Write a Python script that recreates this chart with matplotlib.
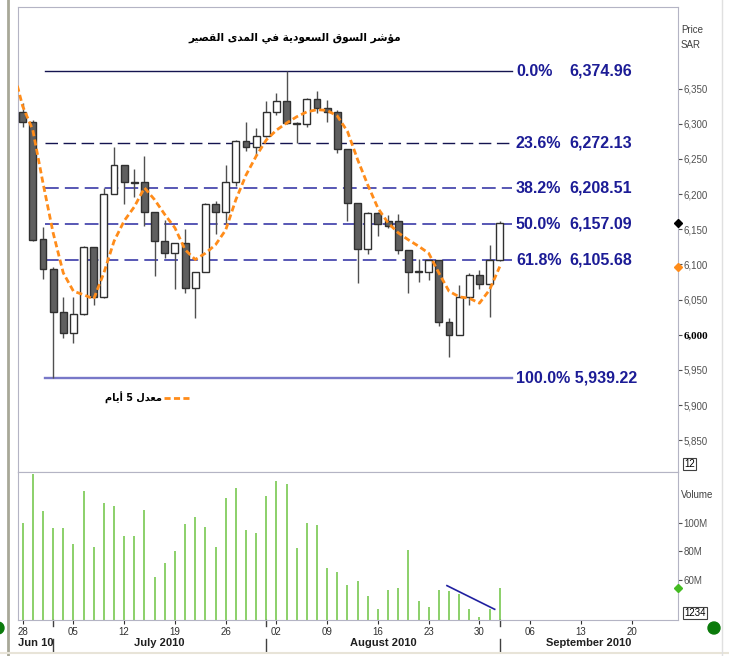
import numpy as np
import matplotlib
matplotlib.use('Agg')
import matplotlib.pyplot as plt
import matplotlib.transforms as mtransforms
from matplotlib.lines import Line2D
from matplotlib.patches import Ellipse

# Datos diarios (velas)
opens = [6317, 6302, 6136, 6093, 6033, 6002, 6029, 6125, 6054, 6200, 6241, 6217, 6217, 6174, 6133, 6117,
         6130, 6067, 6090, 6186, 6174, 6217, 6275, 6267, 6283, 6317, 6333, 6301, 6299, 6335, 6323, 6317,
         6264, 6187, 6122, 6173, 6162, 6162, 6121, 6090, 6089, 6106, 6018, 6000, 6054, 6085, 6072, 6106]
closes = [6302, 6135, 6093, 6033, 6002, 6029, 6125, 6054, 6200, 6241, 6217, 6216, 6174, 6133, 6117, 6130,
          6067, 6090, 6186, 6174, 6217, 6275, 6267, 6283, 6317, 6333, 6301, 6299, 6335, 6323, 6317, 6264,
          6187, 6122, 6173, 6157, 6155, 6121, 6089, 6089, 6106, 6018, 6000, 6054, 6085, 6072, 6106, 6159]
highs = [6330, 6305, 6153, 6096, 6054, 6054, 6126, 6125, 6208, 6267, 6241, 6236, 6254, 6174, 6163, 6131,
         6151, 6090, 6187, 6190, 6241, 6277, 6303, 6294, 6333, 6344, 6375, 6302, 6337, 6346, 6334, 6320,
         6264, 6188, 6175, 6174, 6171, 6172, 6121, 6108, 6106, 6106, 6024, 6071, 6088, 6092, 6127, 6162]
lows = [6295, 6133, 6080, 5939.2, 5996, 5988, 6028, 6043, 6052, 6200, 6186, 6196, 6155, 6084, 6109, 6065,
        6059, 6024, 6089, 6144, 6157, 6211, 6262, 6256, 6281, 6313, 6300, 6272, 6295, 6315, 6302, 6259,
        6162, 6074, 6115, 6140, 6152, 6115, 6059, 6075, 6078, 6012, 5968, 6000, 6043, 6065, 6026, 6105]

# Media movil de 5 dias (el primer valor es el dia anterior al grafico)
ma5 = [6380, 6325, 6291, 6216, 6145, 6088, 6062, 6057, 6051, 6088, 6133, 6162, 6182, 6209, 6192, 6171,
       6152, 6121, 6107, 6116, 6128, 6149, 6192, 6227, 6254, 6277, 6291, 6301, 6310, 6317, 6320, 6319,
       6311, 6289, 6249, 6213, 6180, 6159, 6145, 6135, 6126, 6116, 6088, 6062, 6054, 6052, 6045, 6064, 6097]

# Volumen (millones)
volume = [99.5, 134, 108, 96, 96, 85, 122, 83, 114, 112, 90.5, 90.5, 109, 62, 72, 80,
          99, 104, 97, 83, 117, 124.5, 95, 93, 119, 129, 127, 82.5, 100, 98, 68, 65.6,
          56, 59.4, 48.6, 39.7, 53, 54, 80.6, 45.3, 41.1, 53, 51.7, 49.8, 39.2, 33.8, 39.2, 54]
trend_x = [41.8, 46.5]
trend_v = [55.8, 39.2]

# Niveles de Fibonacci
fib_pct = ['0.0%', '23.6%', '38.2%', '50.0%', '61.8%', '100.0%']
fib_val = [6374.96, 6272.13, 6208.51, 6157.09, 6105.68, 5939.22]
fib_start, fib_end = 2.2, 48.2

# Eje de fechas
week_ticks = list(range(0, 61, 5))
week_labels = ['28', '05', '12', '19', '26', '02', '09', '16', '23', '30', '06', '13', '20']
month_starts = [3, 24, 47]
month_names = ['Jun 10', 'July 2010', 'August 2010', 'September 2010']

price_ticks = list(range(5850, 6351, 50))
vol_ticks = [60, 80, 100]

title_ar = 'مؤشر السوق السعودية في المدى القصير'
legend_ar = 'معدل 5 أيام'

# Formas contextuales arabes (aislada, final, inicial, media)
FORMS = {
    'ا': ('\uFE8D', '\uFE8E'), 'أ': ('\uFE83', '\uFE84'), 'ؤ': ('\uFE85', '\uFE86'),
    'د': ('\uFEA9', '\uFEAA'), 'ر': ('\uFEAD', '\uFEAE'), 'و': ('\uFEED', '\uFEEE'),
    'ة': ('\uFE93', '\uFE94'), 'ى': ('\uFEEF', '\uFEF0'),
    'م': ('\uFEE1', '\uFEE2', '\uFEE3', '\uFEE4'), 'ش': ('\uFEB5', '\uFEB6', '\uFEB7', '\uFEB8'),
    'ل': ('\uFEDD', '\uFEDE', '\uFEDF', '\uFEE0'), 'س': ('\uFEB1', '\uFEB2', '\uFEB3', '\uFEB4'),
    'ق': ('\uFED5', '\uFED6', '\uFED7', '\uFED8'), 'ع': ('\uFEC9', '\uFECA', '\uFECB', '\uFECC'),
    'ي': ('\uFEF1', '\uFEF2', '\uFEF3', '\uFEF4'), 'ف': ('\uFED1', '\uFED2', '\uFED3', '\uFED4'),
    'ص': ('\uFEB9', '\uFEBA', '\uFEBB', '\uFEBC'),
}


def shape(text):
    out = []
    for i, ch in enumerate(text):
        f = FORMS.get(ch)
        if f is None:
            out.append(ch)
            continue
        prev = text[i - 1] if i > 0 else ''
        nxt = text[i + 1] if i + 1 < len(text) else ''
        join_prev = prev in FORMS and len(FORMS[prev]) == 4
        join_next = len(f) == 4 and nxt in FORMS
        if join_prev and join_next:
            out.append(f[3])
        elif join_prev:
            out.append(f[1])
        elif join_next:
            out.append(f[2])
        else:
            out.append(f[0])
    return ''.join(reversed(out))


NARROW = ['Liberation Sans', 'DejaVu Sans']
W, H = 729, 656
fig = plt.figure(figsize=(W / 100, H / 100), dpi=100)
fig.patch.set_facecolor('white')

ax = fig.add_axes([18 / W, 184 / H, 660 / W, 465 / H])
axv = fig.add_axes([18 / W, 36 / H, 660 / W, 148 / H], sharex=ax)

x = np.arange(len(opens))
o = np.array(opens)
c = np.array(closes)

# Velas
ax.vlines(x, lows, highs, color='#505050', lw=1, zorder=2)
up = c >= o
body_bottom = np.minimum(o, c)
body_h = np.maximum(np.abs(c - o), 1.2)
ax.bar(x[up], body_h[up], bottom=body_bottom[up], width=0.68, color='white',
       edgecolor='#303030', lw=1, zorder=3)
ax.bar(x[~up], body_h[~up], bottom=body_bottom[~up], width=0.68, color='#5f5f5f',
       edgecolor='#303030', lw=1, zorder=3)

# Media movil
ma_x = np.arange(-1, len(ma5) - 1)
ax.plot(ma_x, ma5, color='#ff8c1a', lw=2, dashes=(2.2, 1.2), zorder=4)

# Lineas de Fibonacci
lab_kw = dict(color='#1c1c96', fontsize=11.5, fontweight='bold', family=NARROW, va='center', ha='left')
for i, (p, v) in enumerate(zip(fib_pct, fib_val)):
    if i == 0:
        ax.plot([fib_start, fib_end], [v, v], color='#141450', lw=1, zorder=1)
    elif i == len(fib_val) - 1:
        ax.plot([fib_start, fib_end], [v, v], color='#7878c8', lw=1.7, zorder=1)
    elif i == 1:
        ax.plot([fib_start, fib_end], [v, v], color='#141450', lw=1, dashes=(9, 4), zorder=1)
    else:
        ax.plot([fib_start, fib_end], [v, v], color='#2a2aa0', lw=1.1, dashes=(9, 4), zorder=1)
    if i == len(fib_val) - 1:
        ax.text(48.6, v, f'{p} {v:,.2f}', **lab_kw)
    else:
        ax.text(48.6, v, p, **lab_kw)
        ax.text(53.9, v, f'{v:,.2f}', **lab_kw)

ax.set_xlim(-0.46, 64.56)
ax.set_ylim(5805, 6466)

# Marcadores en el eje derecho
xr = ax.get_xlim()[1]
ax.plot([xr], [closes[-1]], 'D', color='black', ms=4, clip_on=False, zorder=6)
ax.plot([xr], [ma5[-1]], 'D', color='#ff8c1a', ms=4, clip_on=False, zorder=6)

ax.yaxis.tick_right()
ax.set_yticks(price_ticks)
ax.set_yticklabels([f'{t:,}' for t in price_ticks])
ax.tick_params(axis='y', direction='out', length=3, pad=1, labelsize=7, colors='#505050')
for lab in ax.get_yticklabels():
    lab.set_family(NARROW)
    if lab.get_text() == '6,000':
        lab.set_color('black')
        lab.set_fontweight('bold')
        lab.set_family(['Liberation Serif', 'DejaVu Serif'])
        lab.set_fontsize(8)
ax.tick_params(axis='x', bottom=False, labelbottom=False)
for s in ax.spines.values():
    s.set_color('#b4b4c4')

ax.text(0.42, 0.935, shape(title_ar), transform=ax.transAxes, ha='center', va='center',
        fontsize=7.6, fontweight='bold', family=['DejaVu Sans'])

handle = Line2D([], [], color='#ff8c1a', lw=2, dashes=(2.2, 1.2))
ax.legend([handle], [shape(legend_ar)], markerfirst=False, frameon=False, loc='center left',
          bbox_to_anchor=(0.125, 0.159), borderpad=0, handlelength=2.6, handletextpad=0.2,
          prop={'family': 'DejaVu Sans', 'weight': 'bold', 'size': 7})

# Volumen
axv.vlines(x, 0, volume, color='#78c850', lw=1.2)
axv.plot(trend_x, trend_v, color='#2020a0', lw=1.2)
axv.set_ylim(31.7, 135.5)
axv.plot([xr], [volume[-1]], 'D', color='#44bb22', ms=4, clip_on=False, zorder=6)
axv.yaxis.tick_right()
axv.set_yticks(vol_ticks)
axv.set_yticklabels([f'{t}M' for t in vol_ticks])
axv.tick_params(axis='y', direction='out', length=3, pad=1, labelsize=7, colors='#505050')
axv.set_xticks(week_ticks)
axv.set_xticklabels(week_labels)
axv.tick_params(axis='x', direction='out', length=3, pad=2, labelsize=7, colors='#303030')
for lab in axv.get_yticklabels() + axv.get_xticklabels():
    lab.set_family(NARROW)
for s in axv.spines.values():
    s.set_color('#b4b4c4')

# Meses y separadores
trans = mtransforms.blended_transform_factory(axv.transData, axv.transAxes)
bounds = [ax.get_xlim()[0]] + month_starts + [ax.get_xlim()[1]]
for m in month_starts:
    axv.plot([m, m], [-0.13, -0.215], color='#404040', lw=1, transform=trans, clip_on=False)
    axv.plot([m, m], [0, -0.04], color='#404040', lw=1, transform=trans, clip_on=False)
for i, name in enumerate(month_names):
    cx = (bounds[i] + bounds[i + 1]) / 2
    axv.text(cx, -0.158, name, transform=trans, ha='center', va='center', fontsize=8,
             fontweight='bold', family=NARROW, color='#202020')

# Textos del eje derecho
fig.text(681 / W, 1 - 30 / H, 'Price', fontsize=7, color='#404040', family=NARROW, va='center')
fig.text(681 / W, 1 - 45 / H, 'SAR', fontsize=7, color='#404040', family=NARROW, va='center')
fig.text(681 / W, 1 - 495 / H, 'Volume', fontsize=7, color='#404040', family=NARROW, va='center')
box = dict(boxstyle='square,pad=0.15', fc='white', ec='#404040', lw=0.8)
fig.text(684 / W, 1 - 464 / H, '12', fontsize=7, family=NARROW, va='center', bbox=box)
fig.text(684 / W, 1 - 613 / H, '1234', fontsize=7, family=NARROW, va='center', bbox=box)

# Decoracion del marco
fig.add_artist(Line2D([8 / W, 8 / W], [0, 1], color='#a8a898', lw=2))
fig.add_artist(Line2D([0, 1], [3 / H, 3 / H], color='#e8e4d8', lw=1.5))
fig.add_artist(Line2D([722 / W, 722 / W], [0, 1], color='#e0e0e0', lw=1))
fig.add_artist(Ellipse((714 / W, 1 - 628 / H), 12 / W, 12 / H, color='#0a7a0a'))
fig.add_artist(Ellipse((-2 / W, 1 - 628 / H), 12 / W, 12 / H, color='#0a7a0a'))

fig.savefig('out.png', dpi=100)
